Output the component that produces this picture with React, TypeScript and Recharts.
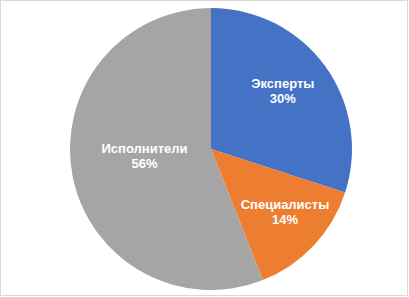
import { PieChart, Pie, Cell } from "recharts";

const categories = ["Эксперты", "Специалисты", "Исполнители"];
const shares = [30, 14, 56];
const colors = ["#4472C4", "#ED7D31", "#A5A5A5"];

const data = categories.map((name, i) => ({ name, value: shares[i] }));

// Excel puts the labels at slightly different depths inside each slice
const labelDepth = [0.63, 0.72, 0.48];

const RADIAN = Math.PI / 180;

function renderLabel(props: any) {
  const { cx, cy, midAngle, outerRadius, index, name, value } = props;
  const r = outerRadius * labelDepth[index];
  const x = cx + r * Math.cos(-midAngle * RADIAN);
  const y = cy + r * Math.sin(-midAngle * RADIAN);
  return (
    <text
      x={x}
      y={y}
      fill="#ffffff"
      textAnchor="middle"
      fontFamily="'Liberation Sans', Arial, sans-serif"
      fontWeight="bold"
      fontSize={13}
    >
      <tspan x={x} dy={-9}>{name}</tspan>
      <tspan x={x} dy={15}>{value}%</tspan>
    </text>
  );
}

export default function App() {
  return (
    <div
      style={{
        position: "absolute",
        left: 0,
        top: 0,
        width: 408,
        height: 296,
        background: "#ffffff",
        border: "1px solid #d9d9d9",
        boxSizing: "border-box",
      }}
    >
      <PieChart width={406} height={294} margin={{ top: 0, right: 0, bottom: 0, left: 0 }}>
        <Pie
          data={data}
          dataKey="value"
          nameKey="name"
          cx={210}
          cy={148}
          outerRadius={141}
          startAngle={90}
          endAngle={-270}
          stroke="none"
          label={renderLabel}
          labelLine={false}
          isAnimationActive={false}
        >
          {data.map((d, i) => (
            <Cell key={d.name} fill={colors[i]} />
          ))}
        </Pie>
      </PieChart>
    </div>
  );
}
